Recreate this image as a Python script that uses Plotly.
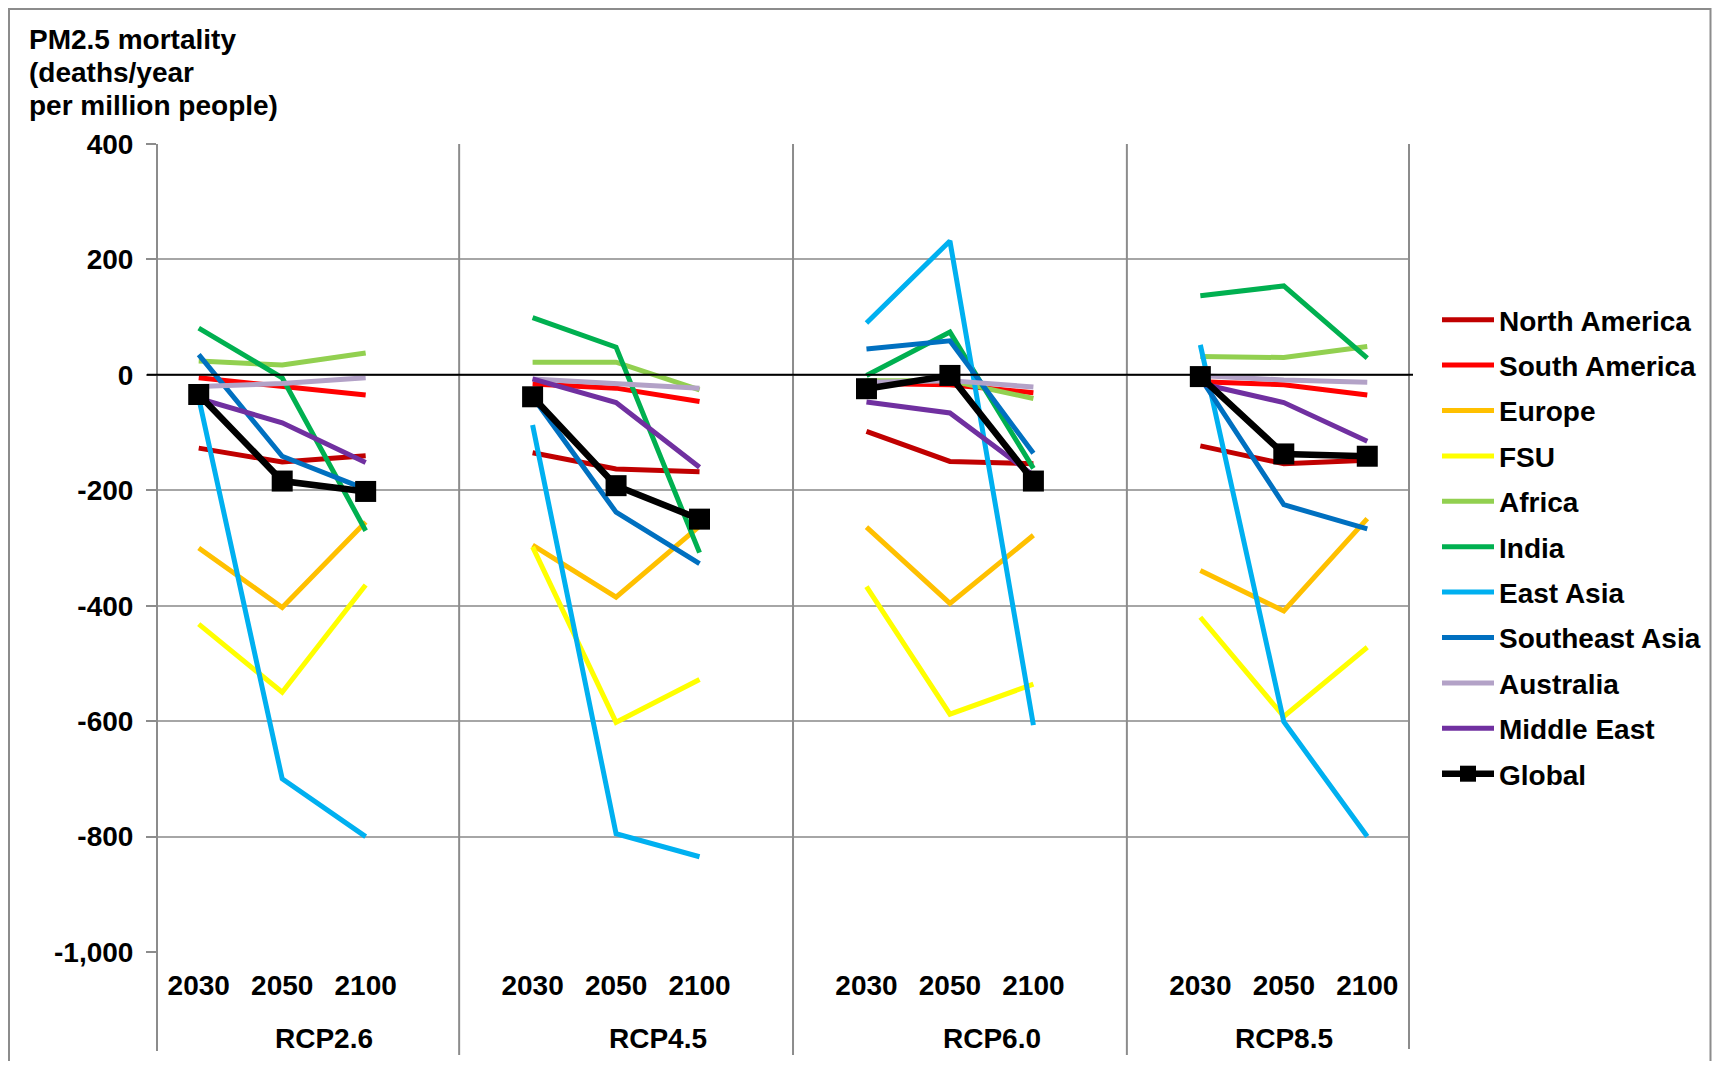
import plotly.graph_objects as go

# ---------------- data ----------------
scenarios = ["RCP2.6", "RCP4.5", "RCP6.0", "RCP8.5"]
years = ["2030", "2050", "2100"]

regions = ["North America", "South America", "Europe", "FSU", "Africa", "India",
           "East Asia", "Southeast Asia", "Australia", "Middle East", "Global"]

north_america = [-127, -151, -140, -135, -163, -168, -98, -150, -154, -123, -154, -148]
south_america = [-5, -19, -35, -16, -23, -46, -15, -17, -31, -12, -17, -35]
europe = [-300, -403, -255, -295, -385, -262, -264, -396, -278, -339, -409, -249]
fsu = [-432, -550, -364, -298, -602, -528, -367, -588, -536, -420, -592, -472]
africa = [24, 17, 38, 22, 22, -26, -10, -10, -41, 32, 30, 49]
india = [81, -5, -270, 99, 48, -308, -1, 74, -162, 137, 154, 29]
east_asia = [-40, -700, -800, -87, -795, -835, 90, 232, -607, 52, -601, -800]
southeast_asia = [35, -141, -198, -38, -238, -327, 45, 59, -136, -5, -225, -267]
australia = [-20, -15, -5, -7, -14, -23, -13, -10, -21, -1, -9, -13]
middle_east = [-41, -83, -152, -7, -48, -160, -47, -66, -174, -15, -48, -115]
global_avg = [-34, -184, -202, -38, -192, -250, -24, -1, -184, -3, -137, -141]

series = [north_america, south_america, europe, fsu, africa, india,
          east_asia, southeast_asia, australia, middle_east, global_avg]
colors = ["#C00000", "#FF0000", "#FFC000", "#FFFF00", "#92D050", "#00B050",
          "#00B0F0", "#0070C0", "#B3A2C7", "#7030A0", "#000000"]

y_ticks = [-1000, -800, -600, -400, -200, 0, 200, 400]
y_ticktext = ["-1,000", "-800", "-600", "-400", "-200", "0", "200", "400"]

title_lines = ["PM2.5 mortality", "(deaths/year", "per million people)"]

# ---------------- layout helpers ----------------
OFF = 8                      # page body margin
W, H = 1720 - 2 * OFF, 1069 - 2 * OFF
# plot area in page pixel coordinates
L, R, T, B = 157, 1409, 144, 952
slots_per_group = len(years) + 1
n_slots = slots_per_group * len(scenarios) - 1


def py(p):  # page pixel y -> paper y
    return (B - p) / (B - T)


def px(p):  # page pixel x -> paper x
    return (p - L) / (R - L)


def build_xy(vals):
    xs, ys = [], []
    for g in range(len(scenarios)):
        for k in range(len(years)):
            xs.append(g * slots_per_group + k + 0.5)
            ys.append(vals[g * len(years) + k])
        if g < len(scenarios) - 1:
            xs.append(None)
            ys.append(None)
    return xs, ys


FONT = "Liberation Sans, Arial, sans-serif"
FS = 28

fig = go.Figure()
for name, vals, col in zip(regions, series, colors):
    xs, ys = build_xy(vals)
    if name == "Global":
        fig.add_trace(go.Scatter(
            x=xs, y=ys, name=name, mode="lines+markers",
            line=dict(color=col, width=6.5),
            marker=dict(symbol="square", size=21, color=col),
            legendgroup=name, connectgaps=False))
    else:
        fig.add_trace(go.Scatter(
            x=xs, y=ys, name=name, mode="lines",
            line=dict(color=col, width=5),
            legendgroup=name, connectgaps=False))

tickvals, ticktext = [], []
for g in range(len(scenarios)):
    for k, yr in enumerate(years):
        tickvals.append(g * slots_per_group + k + 0.5)
        ticktext.append(yr)

shapes = []
grid_col = "#A6A6A6"
axis_col = "#8C8C8C"
# group dividers (extend into the label area)
for d in [3.62, 7.62, 11.62]:
    shapes.append(dict(type="line", xref="x", yref="paper", x0=d, x1=d,
                       y0=1, y1=py(1055), line=dict(color=axis_col, width=2)))
# left axis line and right edge
shapes.append(dict(type="line", xref="paper", yref="paper", x0=0, x1=0,
                   y0=1, y1=py(1051), line=dict(color=axis_col, width=2)))
shapes.append(dict(type="line", xref="paper", yref="paper", x0=1, x1=1,
                   y0=1, y1=py(1049), line=dict(color=axis_col, width=2)))
# zero (category) axis line
shapes.append(dict(type="line", xref="paper", yref="y", x0=px(147), x1=px(1413),
                   y0=0, y1=0, line=dict(color="#000000", width=2), layer="above"))
# outer chart frame
shapes.append(dict(type="rect", xref="paper", yref="paper",
                   x0=px(9), x1=px(OFF + W - 1.5), y0=py(1085), y1=py(9),
                   line=dict(color="#8C8C8C", width=2), layer="below"))

annotations = []
for i, (line_txt, yc) in enumerate(zip(title_lines, [39.5, 72.5, 106])):
    annotations.append(dict(
        text=line_txt, xref="paper", yref="paper", x=px(27), y=py(yc),
        xanchor="left", yanchor="middle", align="left", showarrow=False,
        font=dict(family=FONT, size=FS, color="#000000", weight="bold")))
for g, sc in enumerate(scenarios):
    start = g * slots_per_group
    end = min(start + slots_per_group, n_slots)
    annotations.append(dict(
        text=sc, xref="x", yref="paper", x=(start + end) / 2, y=py(1038),
        xanchor="center", yanchor="middle", showarrow=False,
        font=dict(family=FONT, size=FS, color="#000000", weight="bold")))

fig.update_layout(
    width=W, height=H,
    margin=dict(l=L - OFF, r=W - (R - OFF), t=T - OFF, b=H - (B - OFF),
                autoexpand=False),
    paper_bgcolor="white", plot_bgcolor="white",
    font=dict(family=FONT, size=FS, color="#000000", weight="bold"),
    showlegend=True,
    legend=dict(x=px(1437), y=py(295), xanchor="left", yanchor="top",
                font=dict(family=FONT, size=FS, color="#000000", weight="bold"),
                tracegroupgap=6, itemwidth=52, bgcolor="rgba(0,0,0,0)"),
    xaxis=dict(range=[0, n_slots], tickvals=tickvals, ticktext=ticktext,
               showgrid=False, zeroline=False, showline=False, ticks="",
               ticklabelstandoff=14, tickfont=dict(family=FONT, size=FS, weight="bold")),
    yaxis=dict(range=[-1000, 400], tickvals=y_ticks, ticktext=y_ticktext,
               showgrid=True, gridcolor=grid_col, gridwidth=1.5,
               zeroline=False, showline=False,
               ticks="outside", ticklen=10, tickcolor=axis_col, tickwidth=1.5,
               ticklabelstandoff=7, tickfont=dict(family=FONT, size=FS, weight="bold")),
    shapes=shapes, annotations=annotations,
)

fig.write_html("out.html")
